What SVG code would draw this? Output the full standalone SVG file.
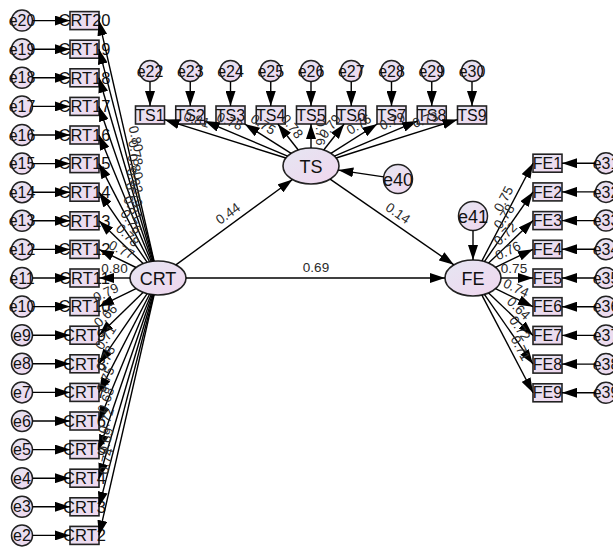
<svg xmlns="http://www.w3.org/2000/svg" width="613" height="550" viewBox="0 0 613 550">
  <defs>
    <linearGradient id="lav" x1="0" y1="0" x2="1" y2="1">
      <stop offset="0" stop-color="#e5e6f2"/>
      <stop offset="1" stop-color="#f0d6ee"/>
    </linearGradient>
    <marker id="ah" viewBox="0 0 15 10" refX="15" refY="5" markerWidth="15" markerHeight="10" markerUnits="userSpaceOnUse" orient="auto">
      <path d="M0,0 L15,5 L0,10 z" fill="#000"/>
    </marker>
    <style>
      .box { fill: url(#lav); stroke: #222; stroke-width: 1.6; }
      .lat { fill: url(#lav); stroke: #222; stroke-width: 1.6; }
      .err { fill: url(#lav); stroke: #222; stroke-width: 1.5; }
      text { font-family: "Liberation Sans", Arial, sans-serif; fill: #111; text-anchor: middle; }
      .tb { font-size: 16.5px; }
      .ts { font-size: 16px; }
      .te { font-size: 16px; }
      .tl { font-size: 18px; }
      .tv { font-size: 13.5px; fill: #2a2a2a; }
    </style>
  </defs>
  <rect width="613" height="550" fill="#fff"/>

  <!-- latent variables -->
  <g id="CRT"><ellipse class="lat" cx="158" cy="278" rx="28" ry="17"/><text class="tl" x="158" y="284.5">CRT</text></g>
  <g id="TS"><ellipse class="lat" cx="311" cy="166" rx="28" ry="18"/><text class="tl" x="311" y="172.5">TS</text></g>
  <g id="FE"><ellipse class="lat" cx="473" cy="278" rx="28" ry="18"/><text class="tl" x="473" y="284.5">FE</text></g>
  <g id="e40"><circle class="err" cx="398" cy="179" r="14.5"/><text class="tl" x="398" y="185.5">e40</text></g>
  <g id="e41"><circle class="err" cx="473" cy="216" r="14.5"/><text class="tl" x="473" y="222.5">e41</text></g>

  <!-- CRT indicators -->
  <g id="CRT20"><rect class="box" x="70" y="11.6" width="29" height="18"/><text class="tb" x="84.5" y="26.4">CRT20</text></g>
  <g id="CRT19"><rect class="box" x="70" y="40.2" width="29" height="18"/><text class="tb" x="84.5" y="55">CRT19</text></g>
  <g id="CRT18"><rect class="box" x="70" y="68.8" width="29" height="18"/><text class="tb" x="84.5" y="83.6">CRT18</text></g>
  <g id="CRT17"><rect class="box" x="70" y="97.4" width="29" height="18"/><text class="tb" x="84.5" y="112.2">CRT17</text></g>
  <g id="CRT16"><rect class="box" x="70" y="126" width="29" height="18"/><text class="tb" x="84.5" y="140.8">CRT16</text></g>
  <g id="CRT15"><rect class="box" x="70" y="154.6" width="29" height="18"/><text class="tb" x="84.5" y="169.4">CRT15</text></g>
  <g id="CRT14"><rect class="box" x="70" y="183.2" width="29" height="18"/><text class="tb" x="84.5" y="198">CRT14</text></g>
  <g id="CRT13"><rect class="box" x="70" y="211.8" width="29" height="18"/><text class="tb" x="84.5" y="226.6">CRT13</text></g>
  <g id="CRT12"><rect class="box" x="70" y="240.4" width="29" height="18"/><text class="tb" x="84.5" y="255.2">CRT12</text></g>
  <g id="CRT11"><rect class="box" x="70" y="269" width="29" height="18"/><text class="tb" x="84.5" y="283.8">CRT11</text></g>
  <g id="CRT10"><rect class="box" x="70" y="297.6" width="29" height="18"/><text class="tb" x="84.5" y="312.4">CRT10</text></g>
  <g id="CRT9"><rect class="box" x="70" y="326.2" width="29" height="18"/><text class="tb" x="84.5" y="341">CRT9</text></g>
  <g id="CRT8"><rect class="box" x="70" y="354.8" width="29" height="18"/><text class="tb" x="84.5" y="369.6">CRT8</text></g>
  <g id="CRT7"><rect class="box" x="70" y="383.4" width="29" height="18"/><text class="tb" x="84.5" y="398.2">CRT7</text></g>
  <g id="CRT6"><rect class="box" x="70" y="412" width="29" height="18"/><text class="tb" x="84.5" y="426.8">CRT6</text></g>
  <g id="CRT5"><rect class="box" x="70" y="440.6" width="29" height="18"/><text class="tb" x="84.5" y="455.4">CRT5</text></g>
  <g id="CRT4"><rect class="box" x="70" y="469.2" width="29" height="18"/><text class="tb" x="84.5" y="484">CRT4</text></g>
  <g id="CRT3"><rect class="box" x="70" y="497.8" width="29" height="18"/><text class="tb" x="84.5" y="512.6">CRT3</text></g>
  <g id="CRT2"><rect class="box" x="70" y="526.4" width="29" height="18"/><text class="tb" x="84.5" y="541.2">CRT2</text></g>

  <!-- CRT error terms -->
  <g id="e20"><circle class="err" cx="22" cy="20.6" r="10.5"/><text class="te" x="22" y="26.2">e20</text></g>
  <g id="e19"><circle class="err" cx="22" cy="49.2" r="10.5"/><text class="te" x="22" y="54.8">e19</text></g>
  <g id="e18"><circle class="err" cx="22" cy="77.8" r="10.5"/><text class="te" x="22" y="83.4">e18</text></g>
  <g id="e17"><circle class="err" cx="22" cy="106.4" r="10.5"/><text class="te" x="22" y="112">e17</text></g>
  <g id="e16"><circle class="err" cx="22" cy="135" r="10.5"/><text class="te" x="22" y="140.6">e16</text></g>
  <g id="e15"><circle class="err" cx="22" cy="163.6" r="10.5"/><text class="te" x="22" y="169.2">e15</text></g>
  <g id="e14"><circle class="err" cx="22" cy="192.2" r="10.5"/><text class="te" x="22" y="197.8">e14</text></g>
  <g id="e13"><circle class="err" cx="22" cy="220.8" r="10.5"/><text class="te" x="22" y="226.4">e13</text></g>
  <g id="e12"><circle class="err" cx="22" cy="249.4" r="10.5"/><text class="te" x="22" y="255">e12</text></g>
  <g id="e11"><circle class="err" cx="22" cy="278" r="10.5"/><text class="te" x="22" y="283.6">e11</text></g>
  <g id="e10"><circle class="err" cx="22" cy="306.6" r="10.5"/><text class="te" x="22" y="312.2">e10</text></g>
  <g id="e9"><circle class="err" cx="22" cy="335.2" r="10.5"/><text class="te" x="22" y="340.8">e9</text></g>
  <g id="e8"><circle class="err" cx="22" cy="363.8" r="10.5"/><text class="te" x="22" y="369.4">e8</text></g>
  <g id="e7"><circle class="err" cx="22" cy="392.4" r="10.5"/><text class="te" x="22" y="398">e7</text></g>
  <g id="e6"><circle class="err" cx="22" cy="421" r="10.5"/><text class="te" x="22" y="426.6">e6</text></g>
  <g id="e5"><circle class="err" cx="22" cy="449.6" r="10.5"/><text class="te" x="22" y="455.2">e5</text></g>
  <g id="e4"><circle class="err" cx="22" cy="478.2" r="10.5"/><text class="te" x="22" y="483.8">e4</text></g>
  <g id="e3"><circle class="err" cx="22" cy="506.8" r="10.5"/><text class="te" x="22" y="512.4">e3</text></g>
  <g id="e2"><circle class="err" cx="22" cy="535.4" r="10.5"/><text class="te" x="22" y="541">e2</text></g>

  <!-- TS indicators -->
  <g id="TS1"><rect class="box" x="135.5" y="106" width="29" height="18"/><text class="ts" x="150" y="120.6">TS1</text></g>
  <g id="TS2"><rect class="box" x="175.75" y="106" width="29" height="18"/><text class="ts" x="190.25" y="120.6">TS2</text></g>
  <g id="TS3"><rect class="box" x="216" y="106" width="29" height="18"/><text class="ts" x="230.5" y="120.6">TS3</text></g>
  <g id="TS4"><rect class="box" x="256.25" y="106" width="29" height="18"/><text class="ts" x="270.75" y="120.6">TS4</text></g>
  <g id="TS5"><rect class="box" x="296.5" y="106" width="29" height="18"/><text class="ts" x="311" y="120.6">TS5</text></g>
  <g id="TS6"><rect class="box" x="336.75" y="106" width="29" height="18"/><text class="ts" x="351.25" y="120.6">TS6</text></g>
  <g id="TS7"><rect class="box" x="377" y="106" width="29" height="18"/><text class="ts" x="391.5" y="120.6">TS7</text></g>
  <g id="TS8"><rect class="box" x="417.25" y="106" width="29" height="18"/><text class="ts" x="431.75" y="120.6">TS8</text></g>
  <g id="TS9"><rect class="box" x="457.5" y="106" width="29" height="18"/><text class="ts" x="472" y="120.6">TS9</text></g>

  <!-- TS error terms -->
  <g id="e22"><circle class="err" cx="150" cy="71" r="10.5"/><text class="te" x="150" y="76.6">e22</text></g>
  <g id="e23"><circle class="err" cx="190.25" cy="71" r="10.5"/><text class="te" x="190.25" y="76.6">e23</text></g>
  <g id="e24"><circle class="err" cx="230.5" cy="71" r="10.5"/><text class="te" x="230.5" y="76.6">e24</text></g>
  <g id="e25"><circle class="err" cx="270.75" cy="71" r="10.5"/><text class="te" x="270.75" y="76.6">e25</text></g>
  <g id="e26"><circle class="err" cx="311" cy="71" r="10.5"/><text class="te" x="311" y="76.6">e26</text></g>
  <g id="e27"><circle class="err" cx="351.25" cy="71" r="10.5"/><text class="te" x="351.25" y="76.6">e27</text></g>
  <g id="e28"><circle class="err" cx="391.5" cy="71" r="10.5"/><text class="te" x="391.5" y="76.6">e28</text></g>
  <g id="e29"><circle class="err" cx="431.75" cy="71" r="10.5"/><text class="te" x="431.75" y="76.6">e29</text></g>
  <g id="e30"><circle class="err" cx="472" cy="71" r="10.5"/><text class="te" x="472" y="76.6">e30</text></g>

  <!-- FE indicators -->
  <g id="FE1"><rect class="box" x="533" y="154.2" width="29" height="18"/><text class="ts" x="547.5" y="168.8">FE1</text></g>
  <g id="FE2"><rect class="box" x="533" y="182.9" width="29" height="18"/><text class="ts" x="547.5" y="197.5">FE2</text></g>
  <g id="FE3"><rect class="box" x="533" y="211.6" width="29" height="18"/><text class="ts" x="547.5" y="226.2">FE3</text></g>
  <g id="FE4"><rect class="box" x="533" y="240.3" width="29" height="18"/><text class="ts" x="547.5" y="254.9">FE4</text></g>
  <g id="FE5"><rect class="box" x="533" y="269" width="29" height="18"/><text class="ts" x="547.5" y="283.6">FE5</text></g>
  <g id="FE6"><rect class="box" x="533" y="297.7" width="29" height="18"/><text class="ts" x="547.5" y="312.3">FE6</text></g>
  <g id="FE7"><rect class="box" x="533" y="326.4" width="29" height="18"/><text class="ts" x="547.5" y="341">FE7</text></g>
  <g id="FE8"><rect class="box" x="533" y="355.1" width="29" height="18"/><text class="ts" x="547.5" y="369.7">FE8</text></g>
  <g id="FE9"><rect class="box" x="533" y="383.8" width="29" height="18"/><text class="ts" x="547.5" y="398.4">FE9</text></g>

  <!-- FE error terms -->
  <g id="e31"><circle class="err" cx="606" cy="163.2" r="10.5"/><text class="te" x="606" y="168.8">e31</text></g>
  <g id="e32"><circle class="err" cx="606" cy="191.9" r="10.5"/><text class="te" x="606" y="197.5">e32</text></g>
  <g id="e33"><circle class="err" cx="606" cy="220.6" r="10.5"/><text class="te" x="606" y="226.2">e33</text></g>
  <g id="e34"><circle class="err" cx="606" cy="249.3" r="10.5"/><text class="te" x="606" y="254.9">e34</text></g>
  <g id="e35"><circle class="err" cx="606" cy="278" r="10.5"/><text class="te" x="606" y="283.6">e35</text></g>
  <g id="e36"><circle class="err" cx="606" cy="306.7" r="10.5"/><text class="te" x="606" y="312.3">e36</text></g>
  <g id="e37"><circle class="err" cx="606" cy="335.4" r="10.5"/><text class="te" x="606" y="341">e37</text></g>
  <g id="e38"><circle class="err" cx="606" cy="364.1" r="10.5"/><text class="te" x="606" y="369.7">e38</text></g>
  <g id="e39"><circle class="err" cx="606" cy="392.8" r="10.5"/><text class="te" x="606" y="398.4">e39</text></g>

  <!-- connectors -->
  <g id="connectors" fill="none" stroke="#000" stroke-width="1.4" marker-end="url(#ah)">
    <!-- error terms into CRT indicators -->
    <path d="M32.5,20.6 L70,20.6"/><path d="M32.5,49.2 L70,49.2"/><path d="M32.5,77.8 L70,77.8"/>
    <path d="M32.5,106.4 L70,106.4"/><path d="M32.5,135 L70,135"/><path d="M32.5,163.6 L70,163.6"/>
    <path d="M32.5,192.2 L70,192.2"/><path d="M32.5,220.8 L70,220.8"/><path d="M32.5,249.4 L70,249.4"/>
    <path d="M32.5,278 L70,278"/><path d="M32.5,306.6 L70,306.6"/><path d="M32.5,335.2 L70,335.2"/>
    <path d="M32.5,363.8 L70,363.8"/><path d="M32.5,392.4 L70,392.4"/><path d="M32.5,421 L70,421"/>
    <path d="M32.5,449.6 L70,449.6"/><path d="M32.5,478.2 L70,478.2"/><path d="M32.5,506.8 L70,506.8"/>
    <path d="M32.5,535.4 L70,535.4"/>
    <!-- CRT loadings -->
    <path d="M154.1,261.2 L99,20.6"/><path d="M153.7,261.2 L99,49.2"/><path d="M153.1,261.3 L99,77.8"/>
    <path d="M152.3,261.4 L99,106.4"/><path d="M151.2,261.5 L99,135"/><path d="M149.6,261.8 L99,163.6"/>
    <path d="M147.2,262.3 L99,192.2"/><path d="M143.1,263.6 L99,220.8"/><path d="M136,267.5 L99,249.4"/>
    <path d="M130,278 L99,278"/><path d="M136,288.6 L99,306.6"/><path d="M143,292.4 L99,335.2"/>
    <path d="M147.2,293.7 L99,363.8"/><path d="M149.6,294.2 L99,392.4"/><path d="M151.2,294.5 L99,421"/>
    <path d="M152.3,294.6 L99,449.6"/><path d="M153.1,294.7 L99,478.2"/><path d="M153.7,294.8 L99,506.8"/>
    <path d="M154.1,294.8 L99,535.4"/>
    <!-- error terms into TS indicators -->
    <path d="M150,81.5 L150,106"/><path d="M190.25,81.5 L190.25,106"/><path d="M230.5,81.5 L230.5,106"/>
    <path d="M270.75,81.5 L270.75,106"/><path d="M311,81.5 L311,106"/><path d="M351.25,81.5 L351.25,106"/>
    <path d="M391.5,81.5 L391.5,106"/><path d="M431.75,81.5 L431.75,106"/><path d="M472,81.5 L472,106"/>
    <!-- TS loadings -->
    <path d="M285.9,158 L164.5,119.6"/><path d="M287.6,156.1 L204.75,121.1"/><path d="M291.1,153.4 L244.7,124"/>
    <path d="M298.3,150 L277.85,124"/><path d="M311,148 L311,124"/><path d="M323.7,150 L344.15,124"/>
    <path d="M330.9,153.4 L377.3,124"/><path d="M334.4,156.1 L417.25,121.1"/><path d="M336.1,158 L457.5,119.6"/>
    <!-- FE loadings -->
    <path d="M481.9,260.9 L533,163.2"/><path d="M484.4,261.6 L533,191.9"/><path d="M488.6,263.1 L533,220.6"/>
    <path d="M495.5,267.3 L533,249.3"/><path d="M501,278 L533,278"/><path d="M495.5,288.7 L533,306.7"/>
    <path d="M488.6,292.9 L533,335.4"/><path d="M484.4,294.4 L533,364.1"/><path d="M481.9,295.1 L533,392.8"/>
    <!-- error terms into FE indicators -->
    <path d="M595.5,163.2 L562,163.2"/><path d="M595.5,191.9 L562,191.9"/><path d="M595.5,220.6 L562,220.6"/>
    <path d="M595.5,249.3 L562,249.3"/><path d="M595.5,278 L562,278"/><path d="M595.5,306.7 L562,306.7"/>
    <path d="M595.5,335.4 L562,335.4"/><path d="M595.5,364.1 L562,364.1"/><path d="M595.5,392.8 L562,392.8"/>
    <!-- structural paths and disturbances -->
    <path d="M175.9,264.9 L292.5,179.5"/>
    <path d="M186,278 L445,278"/>
    <path d="M330.1,179.2 L453.9,264.8"/>
    <path d="M383.7,176.9 L338.3,170.1"/>
    <path d="M473,230.5 L473,260"/>
  </g>

  <!-- coefficient labels -->
  <g id="labels">
    <text class="tv" transform="translate(126.55,140.9) rotate(77.1)" x="0" y="-5">0.80</text>
    <text class="tv" transform="translate(126.35,155.2) rotate(75.5)" x="0" y="-5">0.78</text>
    <text class="tv" transform="translate(126.05,169.55) rotate(73.6)" x="0" y="-5">0.80</text>
    <text class="tv" transform="translate(125.65,183.9) rotate(71)" x="0" y="-5">0.82</text>
    <text class="tv" transform="translate(125.1,198.25) rotate(67.6)" x="0" y="-5">0.79</text>
    <text class="tv" transform="translate(124.3,212.7) rotate(62.7)" x="0" y="-5">0.81</text>
    <text class="tv" transform="translate(123.1,227.25) rotate(55.5)" x="0" y="-5">0.76</text>
    <text class="tv" transform="translate(121.05,242.2) rotate(44.1)" x="0" y="-5">0.78</text>
    <text class="tv" transform="translate(117.5,258.45) rotate(25.9)" x="0" y="-5">0.77</text>
    <text class="tv" transform="translate(114.5,278)" x="0" y="-5">0.80</text>
    <text class="tv" transform="translate(110.1,301.2) rotate(-25.9)" x="0" y="-5">0.79</text>
    <text class="tv" transform="translate(112.2,322.4) rotate(-44.1)" x="0" y="-5">0.66</text>
    <text class="tv" transform="translate(113.5,342.8) rotate(-55.5)" x="0" y="-5">0.71</text>
    <text class="tv" transform="translate(114.2,362.9) rotate(-62.7)" x="0" y="-5">0.78</text>
    <text class="tv" transform="translate(114.4,383.1) rotate(-67.6)" x="0" y="-5">0.75</text>
    <text class="tv" transform="translate(115,403.1) rotate(-71)" x="0" y="-5">0.68</text>
    <text class="tv" transform="translate(115.2,423.2) rotate(-73.6)" x="0" y="-5">0.72</text>
    <text class="tv" transform="translate(115.4,443.2) rotate(-75.5)" x="0" y="-5">0.69</text>
    <text class="tv" transform="translate(115.5,463.2) rotate(-77.1)" x="0" y="-5">0.74</text>

    <text class="tv" transform="translate(193.8,128.9) rotate(17.6)" x="0" y="-5">0.81</text>
    <text class="tv" transform="translate(226,130.1) rotate(22.9)" x="0" y="-5">0.78</text>
    <text class="tv" transform="translate(258,132.4) rotate(32.3)" x="0" y="-5">0.75</text>
    <text class="tv" transform="translate(284.5,132.4) rotate(51.7)" x="0" y="-5">0.78</text>
    <text class="tv" transform="translate(311,132.4) rotate(90)" x="0" y="-5">0.76</text>
    <text class="tv" transform="translate(337.5,132.4) rotate(-51.7)" x="0" y="-5">0.79</text>
    <text class="tv" transform="translate(364,132.4) rotate(-32.3)" x="0" y="-5">0.76</text>
    <text class="tv" transform="translate(396,130.1) rotate(-22.9)" x="0" y="-5">0.79</text>
    <text class="tv" transform="translate(428.2,128.9) rotate(-17.6)" x="0" y="-5">0.73</text>

    <text class="tv" transform="translate(512,203.4) rotate(-62.4)" x="0" y="-5">0.75</text>
    <text class="tv" transform="translate(512,222) rotate(-55.1)" x="0" y="-5">0.78</text>
    <text class="tv" transform="translate(512,240.7) rotate(-43.7)" x="0" y="-5">0.72</text>
    <text class="tv" transform="translate(512,259.3) rotate(-25.6)" x="0" y="-5">0.76</text>
    <text class="tv" transform="translate(514,278)" x="0" y="-5">0.75</text>
    <text class="tv" transform="translate(512,296.7) rotate(25.6)" x="0" y="-5">0.74</text>
    <text class="tv" transform="translate(512,315.3) rotate(43.7)" x="0" y="-5">0.64</text>
    <text class="tv" transform="translate(512,334) rotate(55.1)" x="0" y="-5">0.72</text>
    <text class="tv" transform="translate(512,352.6) rotate(62.4)" x="0" y="-5">0.71</text>

    <text class="tv" transform="translate(234.2,222.2) rotate(-36.2)" x="0" y="-6">0.44</text>
    <text class="tv" transform="translate(316,278)" x="0" y="-6">0.69</text>
    <text class="tv" transform="translate(392,222) rotate(34.7)" x="0" y="-6">0.14</text>
  </g>
</svg>
